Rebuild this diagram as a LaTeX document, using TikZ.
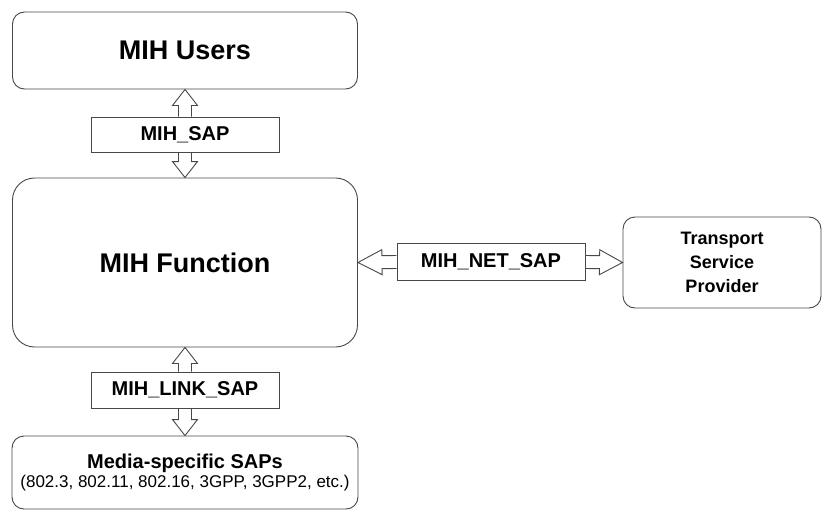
\documentclass[tikz,border=0pt]{standalone}
\usepackage{fontspec}
\setmainfont{Liberation Sans}
\usetikzlibrary{calc}
\tikzset{
  boxline/.style={draw=black!72, line width=0.9pt},
  rbox/.style={boxline, rounded corners=12pt, inner sep=0pt, align=center},
  sapbox/.style={boxline, inner sep=0pt, minimum width=188pt, font=\bfseries\fontsize{20}{24}\selectfont},
  arrowline/.style={draw=black!72, line width=0.9pt, line join=miter},
}
\newcommand\hollowarrow[3]{%
  \coordinate (hn) at ($(#2)!#3!(#1)$);
  \draw[arrowline] ($(#1)!6.5pt!90:(#2)$) -- ($(hn)!6.5pt!90:(#2)$) -- ($(hn)!12.5pt!90:(#2)$) -- (#2)
    -- ($(hn)!12.5pt!-90:(#2)$) -- ($(hn)!6.5pt!-90:(#2)$) -- ($(#1)!6.5pt!-90:(#2)$);}
\begin{document}
\begin{tikzpicture}[x=1pt,y=-1pt]
\useasboundingbox (0,0) rectangle (822,511);
\node[rbox, minimum width=345pt, minimum height=77pt, font=\bfseries\fontsize{27}{32}\selectfont] (users) at (185,50.5) {MIH Users};
\node[sapbox, minimum height=35pt] (sap) at (185,134.5) {MIH\_SAP};
\node[rbox, rounded corners=22pt, minimum width=345pt, minimum height=169pt, font=\bfseries\fontsize{27}{32}\selectfont] (func) at (185,262.5) {MIH Function};
\node[sapbox, minimum height=36pt] (link) at (185,390) {MIH\_LINK\_SAP};
\node[rbox, minimum width=346pt, minimum height=73pt] (media) at (185,472.5)
  {{\bfseries\fontsize{20}{24}\selectfont Media-specific SAPs}\\[1pt]{\fontsize{17}{20}\selectfont (802.3, 802.11, 802.16, 3GPP, 3GPP2, etc.)}};
\node[sapbox, minimum height=37pt] (net) at (491,262) {MIH\_NET\_SAP};
\node[rbox, minimum width=198pt, minimum height=91pt, font=\bfseries\fontsize{18}{24}\selectfont] (tsp) at (722,262.5) {Transport\\Service\\Provider};
\hollowarrow{sap.north}{users.south}{16pt}
\hollowarrow{sap.south}{func.north}{16pt}
\hollowarrow{link.north}{func.south}{16pt}
\hollowarrow{link.south}{media.north}{16pt}
\hollowarrow{net.west}{func.east}{24pt}
\hollowarrow{net.east}{tsp.west}{23pt}
\end{tikzpicture}
\end{document}
